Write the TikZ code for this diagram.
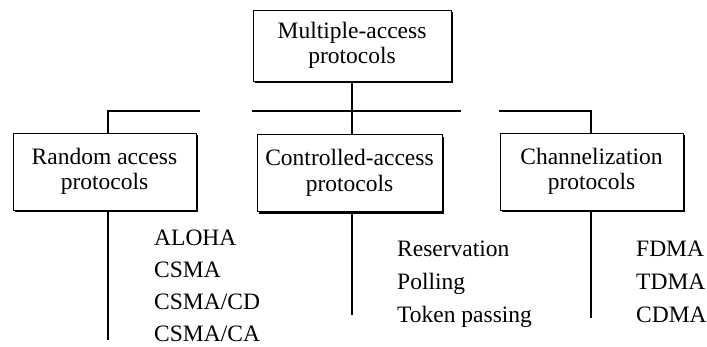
\documentclass[tikz,border=0pt]{standalone}
\usepackage{fontspec}
\setmainfont{Liberation Serif}
\usetikzlibrary{positioning,shadows}

\tikzset{
  protobox/.style={draw, line width=1pt, fill=white, align=center,
    minimum width=183pt, minimum height=77pt, inner sep=0pt,
    drop shadow={shadow xshift=2pt,shadow yshift=-2pt,opacity=1,fill=black}},
  item/.style={anchor=base west, inner sep=0pt},
  bus/.style={line width=1.2pt}
}

\begin{document}
\begin{tikzpicture}[x=1pt,y=-1pt,font=\fontsize{23.5}{25.5}\selectfont]
\useasboundingbox (0,0) rectangle (707,346);
% boxes
\node[protobox, minimum width=198pt, minimum height=71pt] (mac) at (352,45.5) {Multiple-access\\protocols};
\node[protobox] (rap) at (104.5,171.5) {Random access\\protocols};
\node[protobox, minimum width=185pt] (cap) at (349.5,173) {Controlled-access\\protocols};
\node[protobox] (chp) at (591.5,171.5) {Channelization\\protocols};
% bus lines
\coordinate (busl) at (108,111);
\coordinate (busr) at (591,111);
\draw[bus] (mac.south) -- (mac.south |- cap.north);
\draw[bus] (busl |- rap.north) -- (busl) -- ++(92,0);
\draw[bus] (252,111) -- (461,111);
\draw[bus] (499,111) -- (busr) -- (busr |- chp.north);
% tails
\coordinate (raend) at (108,340);
\coordinate (caend) at (352,315);
\coordinate (chend) at (591,318);
\draw[bus] (raend |- rap.south) -- (raend);
\draw[bus] (caend |- cap.south) -- (caend);
\draw[bus] (chend |- chp.south) -- (chend);
% lists
\foreach \t [count=\i] in {ALOHA,CSMA,CSMA/CD,CSMA/CA}
  \node[item] (ra\i) at (154,{245+32.3*(\i-1)}) {\t};
\foreach \t [count=\i] in {Reservation,Polling,Token passing}
  \node[item] (ca\i) at (397,{256+33*(\i-1)}) {\t};
\foreach \t [count=\i] in {FDMA,TDMA,CDMA}
  \node[item] (ch\i) at (636,{256+33*(\i-1)}) {\t};
\end{tikzpicture}
\end{document}
